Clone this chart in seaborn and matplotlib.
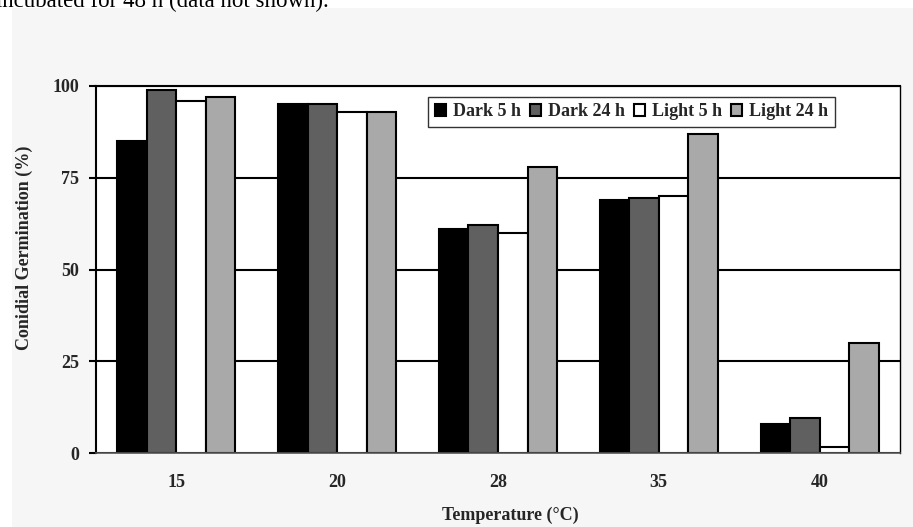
import matplotlib
matplotlib.use("Agg")
import matplotlib.pyplot as plt
from matplotlib.patches import Rectangle
import numpy as np
import pandas as pd
import seaborn as sns

# ---- data ----
temperatures = ["15", "20", "28", "35", "40"]
series_names = ["Dark 5 h", "Dark 24 h", "Light 5 h", "Light 24 h"]
dark_5h = [85, 95, 61, 69, 8]
dark_24h = [99, 95, 62, 69.5, 9.5]
light_5h = [96, 93, 60, 70, 1.7]
light_24h = [97, 93, 78, 87, 30]
y_ticks = [0, 25, 50, 75, 100]
colors = ["#000000", "#606060", "#ffffff", "#a9a9a9"]

df = pd.DataFrame({
    "Temperature": temperatures * 4,
    "Treatment": np.repeat(series_names, len(temperatures)),
    "Value": dark_5h + dark_24h + light_5h + light_24h,
})

sns.set_theme(style="white")
plt.rcParams["font.family"] = ["Liberation Serif", "DejaVu Serif"]

W, H = 913, 527
fig = plt.figure(figsize=(W / 100, H / 100), dpi=100, facecolor="white")
fig.add_artist(Rectangle((12 / W, 0), 1, (H - 8) / H, transform=fig.transFigure,
                         facecolor="#f6f6f6", edgecolor="none", zorder=0))
fig.text(-0.004, 1 - 7 / H, "incubated for 48 h (data not shown).", fontsize=16.5,
         ha="left", va="baseline", color="black")

ax = fig.add_axes([96 / W, 1 - 453 / H, (900 - 96) / W, (453 - 86) / H])
ax.set_facecolor("white")
sns.barplot(data=df, x="Temperature", y="Value", hue="Treatment", hue_order=series_names,
            palette=colors, saturation=1, edgecolor="black", linewidth=1.5,
            width=0.735, errorbar=None, ax=ax)

ax.set_ylim(0, 100)
ax.set_yticks(y_ticks)
ax.set_axisbelow(True)
ax.yaxis.grid(True, color="black", linewidth=1.5)
ax.xaxis.grid(False)

for s in ["left", "top"]:
    ax.spines[s].set_color("black")
    ax.spines[s].set_linewidth(1.5)
ax.spines["right"].set_color("black")
ax.spines["right"].set_linewidth(1.0)
ax.spines["bottom"].set_color("#555555")
ax.spines["bottom"].set_linewidth(1.2)

ax.tick_params(axis="y", direction="out", length=5, width=1.5, color="black",
               pad=7, labelsize=13, left=True)
ax.tick_params(axis="x", length=0, pad=15, labelsize=13)
for lab in ax.get_xticklabels() + ax.get_yticklabels():
    lab.set_fontweight("bold")

ax.set_xlabel("Temperature (°C)", fontsize=13, fontweight="bold", va="center")
ax.set_ylabel("Conidial Germination (%)", fontsize=13, fontweight="bold")
ax.yaxis.set_label_coords(-0.078, 0.56)
ax.xaxis.set_label_coords(0.515, -0.169)

leg = ax.legend(loc="center", bbox_to_anchor=(0.666, 0.930), ncol=4, frameon=True,
                fancybox=False, framealpha=1, edgecolor="#333333", facecolor="white",
                prop={"size": 13, "weight": "bold"}, handlelength=0.6, handleheight=0.6,
                handletextpad=0.4, columnspacing=0.5, borderpad=0.35, borderaxespad=0)
leg.get_frame().set_linewidth(1.0)
for h in leg.legend_handles:
    h.set_edgecolor("black")
    h.set_linewidth(1.5)

fig.savefig("out.png", dpi=100, facecolor=fig.get_facecolor())
